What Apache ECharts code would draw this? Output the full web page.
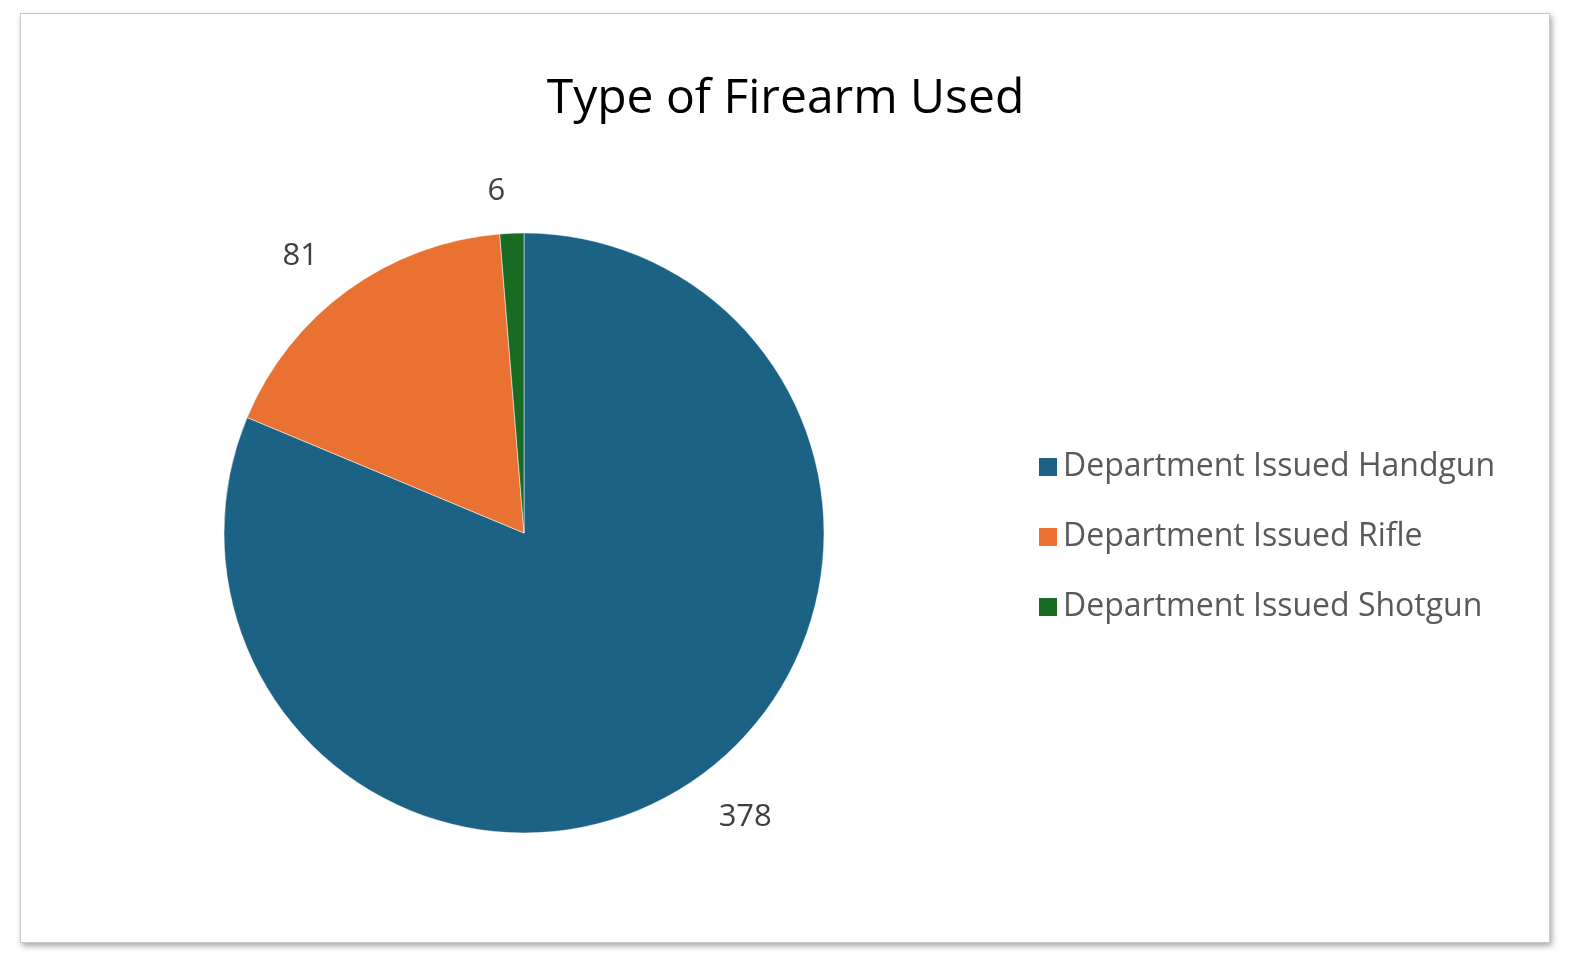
<!DOCTYPE html>
<html>
<head>
<meta charset="utf-8">
<script src="https://cdn.jsdelivr.net/npm/echarts@6/dist/echarts.min.js"></script>
<style>
  html, body { margin: 0; padding: 0; background: #fff; }
  #frame {
    position: absolute; left: 20px; top: 13px; width: 1528px; height: 928px;
    border: 1px solid #c8c8c8; box-shadow: 2px 3px 6px rgba(0,0,0,0.35);
    background: #fff;
  }
  #chart { position: absolute; left: 0; top: 0; width: 1571px; height: 971px; }
</style>
</head>
<body>
<div id="frame"></div>
<div id="chart"></div>
<script>
var categories = ['Department Issued Handgun', 'Department Issued Rifle', 'Department Issued Shotgun'];
var counts = [378, 81, 6];
var colors = ['#1c6284', '#e97132', '#196b24'];

var chart = echarts.init(document.getElementById('chart'));

var data = [];
for (var i = 0; i < categories.length; i++) {
    data.push({ name: categories[i], value: counts[i], itemStyle: { color: colors[i] } });
}

chart.setOption({
    animation: false,
    backgroundColor: 'transparent',
    textStyle: { fontFamily: 'Open Sans' },
    title: {
        text: 'Type of Firearm Used',
        left: 'center',
        top: 70,
        textStyle: { fontSize: 48, fontWeight: 'normal', color: '#000', fontFamily: 'Open Sans' }
    },
    legend: {
        orient: 'vertical',
        left: 1032,
        top: 446,
        itemWidth: 20,
        itemHeight: 20,
        itemGap: 38,
        icon: 'rect',
        data: categories,
        textStyle: { fontSize: 32, color: '#595959', fontFamily: 'Open Sans' }
    },
    series: [{
        type: 'pie',
        center: [524, 533],
        radius: 300,
        startAngle: 90,
        clockwise: true,
        data: data,
        itemStyle: { borderColor: '#fff', borderWidth: 0.5 },
        label: {
            show: true,
            position: 'outside',
            formatter: '{c}',
            fontSize: 31,
            color: '#404040',
            fontFamily: 'Open Sans'
        },
        labelLine: { show: false, length: 42, length2: 0 }
    }]
});
</script>
</body>
</html>
